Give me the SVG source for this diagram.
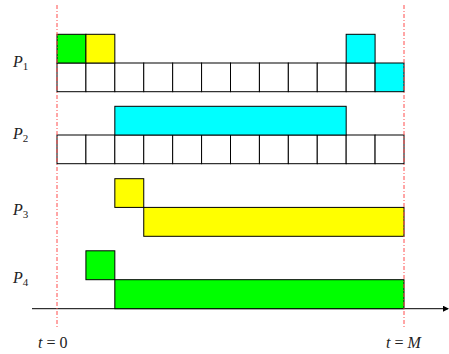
<svg xmlns="http://www.w3.org/2000/svg" width="449" height="354" viewBox="0 0 449 354">
<style>
.c{stroke:#000;stroke-width:1}
.g{fill:#00ff00}
.y{fill:#ffff00}
.b{fill:#00ffff}
.w{fill:#fff}
.lab{font-family:"Liberation Serif",serif;font-style:italic;font-size:16px;fill:#222}
.sub{font-family:"Liberation Serif",serif;font-size:11px;fill:#222}
.m{font-family:"Liberation Serif",serif;font-size:16px;fill:#222}
.red{stroke:#ff4d4d;stroke-width:1;stroke-dasharray:4 2 1 2;fill:none}
</style>
<defs>
<marker id="ah" markerWidth="6" markerHeight="6" refX="5" refY="3" orient="auto" markerUnits="userSpaceOnUse">
<path d="M0,0 L6,3 L0,6 Z" fill="#000"/>
</marker>
</defs>
<g id="connectors">
<line x1="32" y1="308.7" x2="448" y2="308.7" stroke="#000" stroke-width="1" marker-end="url(#ah)"/>
</g>
<g id="P1">
<rect class="c w" x="57" y="63" width="28.92" height="28.7"/>
<rect class="c w" x="85.92" y="63" width="28.91" height="28.7"/>
<rect class="c w" x="114.83" y="63" width="28.92" height="28.7"/>
<rect class="c w" x="143.75" y="63" width="28.92" height="28.7"/>
<rect class="c w" x="172.67" y="63" width="28.91" height="28.7"/>
<rect class="c w" x="201.58" y="63" width="28.92" height="28.7"/>
<rect class="c w" x="230.5" y="63" width="28.92" height="28.7"/>
<rect class="c w" x="259.42" y="63" width="28.91" height="28.7"/>
<rect class="c w" x="288.33" y="63" width="28.92" height="28.7"/>
<rect class="c w" x="317.25" y="63" width="28.92" height="28.7"/>
<rect class="c w" x="346.17" y="63" width="28.91" height="28.7"/>
<rect class="c b" x="375.08" y="63" width="28.92" height="28.7"/>
<rect class="c g" x="57" y="34.3" width="28.92" height="28.7"/>
<rect class="c y" x="85.92" y="34.3" width="28.91" height="28.7"/>
<rect class="c b" x="346.17" y="34.3" width="28.91" height="28.7"/>
<text class="lab" x="13" y="67">P<tspan class="sub" dy="3" font-style="normal">1</tspan></text>
</g>
<g id="P2">
<rect class="c w" x="57" y="135" width="28.92" height="28.7"/>
<rect class="c w" x="85.92" y="135" width="28.91" height="28.7"/>
<rect class="c w" x="114.83" y="135" width="28.92" height="28.7"/>
<rect class="c w" x="143.75" y="135" width="28.92" height="28.7"/>
<rect class="c w" x="172.67" y="135" width="28.91" height="28.7"/>
<rect class="c w" x="201.58" y="135" width="28.92" height="28.7"/>
<rect class="c w" x="230.5" y="135" width="28.92" height="28.7"/>
<rect class="c w" x="259.42" y="135" width="28.91" height="28.7"/>
<rect class="c w" x="288.33" y="135" width="28.92" height="28.7"/>
<rect class="c w" x="317.25" y="135" width="28.92" height="28.7"/>
<rect class="c w" x="346.17" y="135" width="28.91" height="28.7"/>
<rect class="c w" x="375.08" y="135" width="28.92" height="28.7"/>
<rect class="c b" x="114.83" y="106.3" width="231.34" height="28.7"/>
<text class="lab" x="13" y="139">P<tspan class="sub" dy="3" font-style="normal">2</tspan></text>
</g>
<g id="P3">
<rect class="c y" x="114.83" y="178.7" width="28.92" height="28.7"/>
<rect class="c y" x="143.75" y="207.4" width="260.25" height="28.9"/>
<text class="lab" x="13" y="215">P<tspan class="sub" dy="3" font-style="normal">3</tspan></text>
</g>
<g id="P4">
<rect class="c g" x="85.92" y="250.8" width="28.91" height="28.9"/>
<rect class="c g" x="114.83" y="279.7" width="289.17" height="29"/>
<text class="lab" x="13" y="283">P<tspan class="sub" dy="3" font-style="normal">4</tspan></text>
</g>
<g id="markers">
<line class="red" x1="57" y1="5" x2="57" y2="328"/>
<line class="red" x1="404" y1="5" x2="404" y2="328"/>
<text class="m" x="38" y="348"><tspan font-style="italic">t</tspan> = 0</text>
<text class="m" x="386" y="348"><tspan font-style="italic">t</tspan> = <tspan font-style="italic">M</tspan></text>
</g>
</svg>
